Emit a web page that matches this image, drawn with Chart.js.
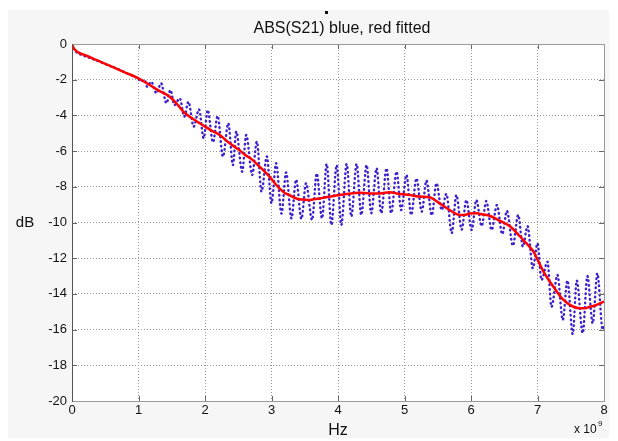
<!DOCTYPE html>
<html lang="en">
<head>
  <meta charset="utf-8">
  <title>ABS(S21) blue, red fitted</title>
  <style>
    * { margin:0; padding:0; box-sizing:border-box }
    body { background:#fff; width:618px; height:441px; overflow:hidden; }
    canvas { display:block; }
  </style>
</head>
<body>
  <canvas id="chart" width="618" height="441"></canvas>

  <script src="https://cdn.jsdelivr.net/npm/chart.js@4.4.1/dist/chart.umd.min.js"></script>
  <script>
  const blueHz = [0, 0.03, 0.08, 0.15, 0.25, 0.35, 0.45, 0.55, 0.65, 0.72, 0.78, 0.83, 0.88, 0.93, 0.98,
    1.03, 1.09, 1.13, 1.19, 1.27, 1.34, 1.42, 1.48, 1.54, 1.62, 1.69, 1.75, 1.83, 1.91, 1.98,
    2.04, 2.12, 2.19, 2.27, 2.35, 2.42, 2.47, 2.56, 2.62, 2.71, 2.78, 2.85, 2.93, 3.0,
    3.07, 3.15, 3.22, 3.3, 3.37, 3.45, 3.52, 3.61, 3.68, 3.76, 3.83, 3.9, 3.98, 4.05,
    4.13, 4.2, 4.28, 4.35, 4.43, 4.5, 4.58, 4.65, 4.73, 4.8, 4.88, 4.95, 5.03, 5.1,
    5.18, 5.26, 5.33, 5.41, 5.48, 5.56, 5.63, 5.71, 5.78, 5.86, 5.93, 6.01, 6.08, 6.16,
    6.23, 6.31, 6.39, 6.47, 6.54, 6.63, 6.71, 6.78, 6.85, 6.93, 7.0, 7.06, 7.15, 7.21,
    7.3, 7.38, 7.45, 7.53, 7.59, 7.68, 7.75, 7.83, 7.9, 7.98, 8.0];
  const blueDb = [0, -0.28, -0.5, -0.62, -0.76, -0.9, -1.05, -1.2, -1.34, -1.45, -1.55, -1.65, -1.7, -1.85, -1.87,
    -2.1, -2.0, -2.39, -2.11, -2.76, -2.2, -3.32, -2.58, -3.42, -3.04, -4.07, -3.23, -4.63, -3.66, -5.28,
    -3.7, -5.5, -4.03, -6.31, -4.44, -6.78, -4.91, -7.15, -5.1, -7.34, -5.47, -8.27, -6.3, -8.92,
    -6.68, -9.5, -7.2, -9.77, -7.6, -9.8, -7.8, -9.86, -7.25, -9.77, -6.72, -10.14, -6.78, -10.14,
    -6.72, -9.67, -6.72, -9.58, -6.78, -9.48, -6.96, -9.48, -6.96, -9.48, -7.15, -9.3, -7.34, -9.58,
    -7.53, -9.39, -7.65, -9.6, -7.8, -9.3, -8.4, -10.6, -8.46, -10.4, -8.74, -10.42, -8.74, -10.2,
    -8.8, -10.42, -9.02, -10.65, -9.35, -11.3, -9.58, -11.35, -10.2, -12.57, -11.17, -13.22, -12.2, -14.72,
    -12.94, -15.46, -13.25, -16.25, -13.25, -16.2, -13.0, -15.65, -12.85, -16.0, -15.7];

  // fitted curve
  const redHz = [0, 0.02, 0.05, 0.1, 0.2, 0.4, 0.6, 0.8, 1.0, 1.17, 1.3, 1.47, 1.6, 1.69, 1.8, 1.99,
    2.1, 2.22, 2.37, 2.5, 2.6, 2.7, 2.82, 2.97, 3.05, 3.12, 3.2, 3.27, 3.35, 3.42, 3.5, 3.57,
    3.65, 3.73, 3.8, 3.88, 3.95, 4.03, 4.1, 4.18, 4.25, 4.33, 4.48, 4.63, 4.78, 4.88, 5.08,
    5.23, 5.38, 5.46, 5.53, 5.68, 5.83, 5.9, 5.98, 6.08, 6.18, 6.28, 6.43, 6.58, 6.73, 6.79,
    6.89, 6.94, 6.99, 7.09, 7.24, 7.39, 7.54, 7.64, 7.72, 7.79, 7.87, 7.94, 8.0];
  const redDb = [0, -0.2, -0.35, -0.48, -0.63, -0.95, -1.27, -1.6, -1.92, -2.3, -2.6, -2.95, -3.45, -3.85, -4.15, -4.6,
    -4.85, -5.1, -5.56, -5.9, -6.2, -6.45, -6.87, -7.43, -7.8, -8.09, -8.35, -8.46, -8.62, -8.7, -8.72, -8.74,
    -8.68, -8.65, -8.6, -8.55, -8.5, -8.46, -8.42, -8.37, -8.35, -8.33, -8.37, -8.37, -8.3, -8.37, -8.46,
    -8.55, -8.58, -8.75, -8.93, -9.3, -9.58, -9.58, -9.5, -9.48, -9.55, -9.62, -9.9, -10.2, -10.75, -11.0,
    -11.4, -11.63, -12.0, -12.75, -13.6, -14.34, -14.72, -14.81, -14.8, -14.72, -14.65, -14.53, -14.43];

  const xTicks = [0, 1, 2, 3, 4, 5, 6, 7, 8];
  const yTicks = [0, -2, -4, -6, -8, -10, -12, -14, -16, -18, -20];

  const FONT = "'Liberation Sans', Arial, Helvetica, sans-serif";

  const matlabFrame = {
    id: 'matlabFrame',
    beforeDraw(chart) {
      const { ctx, chartArea: a } = chart;
      ctx.save();
      ctx.fillStyle = '#fff';
      ctx.fillRect(0, 0, chart.width, chart.height);
      ctx.fillStyle = '#f6f6f6';
      ctx.fillRect(8, 10, 601, 428);
      ctx.fillStyle = '#fff';
      ctx.fillRect(a.left, a.top, a.right - a.left, a.bottom - a.top);
      // small stray mark above the title
      ctx.fillStyle = '#111';
      ctx.fillRect(325, 11, 3, 3);
      ctx.restore();
    },
    afterDraw(chart) {
      const { ctx, chartArea: a, scales } = chart;
      ctx.save();
      ctx.lineWidth = 1;
      ctx.strokeStyle = '#666';
      xTicks.forEach(t => {
        const x = Math.round(scales.x.getPixelForValue(t)) + 0.5;
        ctx.beginPath();
        ctx.moveTo(x, a.bottom); ctx.lineTo(x, a.bottom - 5);
        ctx.moveTo(x, a.top); ctx.lineTo(x, a.top + 5);
        ctx.stroke();
      });
      yTicks.forEach(t => {
        const y = Math.round(scales.y.getPixelForValue(t)) + 0.5;
        ctx.beginPath();
        ctx.moveTo(a.left, y); ctx.lineTo(a.left + 5, y);
        ctx.moveTo(a.right, y); ctx.lineTo(a.right - 5, y);
        ctx.stroke();
      });
      ctx.strokeStyle = '#999';
      ctx.strokeRect(Math.round(a.left) + 0.5, Math.round(a.top) + 0.5,
        Math.round(a.right - a.left), Math.round(a.bottom - a.top));
      ctx.strokeStyle = '#555';
      ctx.beginPath();
      ctx.moveTo(Math.round(a.left) + 0.5, a.top);
      ctx.lineTo(Math.round(a.left) + 0.5, a.bottom + 1);
      ctx.stroke();

      ctx.fillStyle = '#111';
      ctx.textBaseline = 'middle';
      ctx.textAlign = 'center';
      ctx.font = '16px ' + FONT;
      ctx.fillText('ABS(S21) blue, red fitted', 342, 29);
      ctx.font = '15px ' + FONT;
      ctx.fillText('dB', 25, (a.top + a.bottom) / 2);
      ctx.font = '16px ' + FONT;
      ctx.fillText('Hz', (a.left + a.right) / 2, 431);
      ctx.textAlign = 'left';
      ctx.font = '12px ' + FONT;
      ctx.fillText('x 10', 574, 430);
      ctx.font = '8px ' + FONT;
      ctx.fillText('9', 598, 424);
      ctx.restore();
    }
  };

  new Chart(document.getElementById('chart'), {
    type: 'line',
    data: {
      datasets: [
        {
          label: 'ABS(S21)',
          data: blueHz.map((f, i) => ({ x: f, y: blueDb[i] })),
          borderColor: '#4020cc',
          borderWidth: 2.4,
          borderDash: [0.6, 4],
          borderCapStyle: 'round',
          pointRadius: 0,
          cubicInterpolationMode: 'monotone',
          fill: false,
          order: 2
        },
        {
          label: 'fitted',
          data: redHz.map((f, i) => ({ x: f, y: redDb[i] })),
          borderColor: '#ff0000',
          borderWidth: 2.5,
          pointRadius: 0,
          cubicInterpolationMode: 'monotone',
          fill: false,
          order: 1
        }
      ]
    },
    options: {
      responsive: false,
      animation: false,
      devicePixelRatio: 1,
      layout: { padding: { left: 0, right: 14, top: 44, bottom: 0 } },
      plugins: {
        legend: { display: false },
        tooltip: { enabled: false },
        title: { display: false }
      },
      scales: {
        x: {
          type: 'linear',
          min: 0, max: 8,
          afterBuildTicks: s => { s.ticks = xTicks.map(v => ({ value: v })); },
          afterFit: s => { s.height = 40; },
          ticks: { color: '#111', font: { family: FONT, size: 13 }, padding: 2, maxRotation: 0 },
          grid: { color: '#999', drawTicks: false, lineWidth: 1 },
          border: { display: false, dash: [1, 2] }
        },
        y: {
          type: 'linear',
          min: -20, max: 0,
          afterBuildTicks: s => { s.ticks = yTicks.map(v => ({ value: v })); },
          afterFit: s => { s.width = 72; },
          ticks: { color: '#111', font: { family: FONT, size: 13 }, padding: 5 },
          grid: { color: '#999', drawTicks: false, lineWidth: 1 },
          border: { display: false, dash: [1, 2] }
        }
      }
    },
    plugins: [matlabFrame]
  });
  </script>
</body>
</html>
